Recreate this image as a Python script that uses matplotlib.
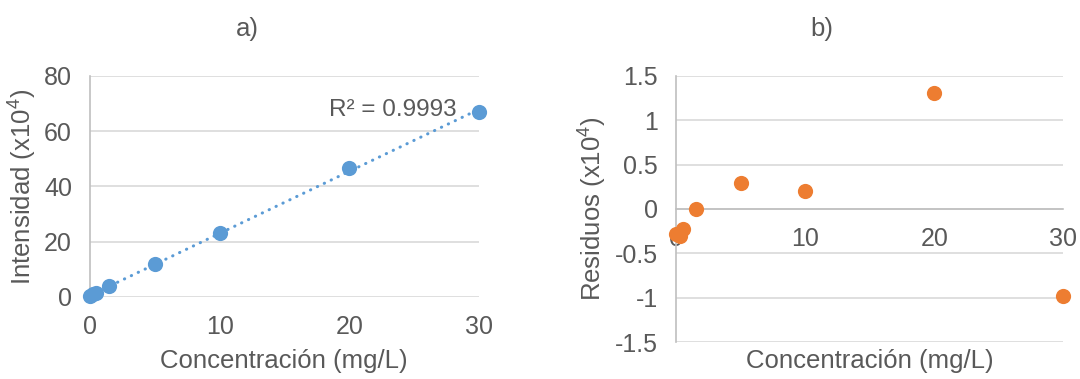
import matplotlib.pyplot as plt
import numpy as np

plt.rcParams['font.family'] = ['Liberation Sans', 'DejaVu Sans']
plt.rcParams['mathtext.fontset'] = 'custom'
plt.rcParams['mathtext.rm'] = 'Liberation Sans'
plt.rcParams['mathtext.it'] = 'Liberation Sans'

# Curva de calibración y residuos
conc = [0, 0.25, 0.5, 1.5, 5, 10, 20, 30]
intensidad = [0.3, 0.9, 1.5, 3.9, 12.0, 23.1, 46.8, 67.0]
residuos = [-0.28, -0.30, -0.22, 0.0, 0.29, 0.20, 1.31, -0.98]
r2_texto = "R² = 0.9993"

azul = "#5B9BD5"
naranja = "#ED7D31"
gris_texto = "#595959"
gris_rejilla = "#D9D9D9"
gris_eje = "#BFBFBF"

W, H = 1080, 379
fig = plt.figure(figsize=(10.8, 3.79), dpi=100)
ax1 = fig.add_axes([0.0833, 0.2164, 0.3602, 0.5831])
ax2 = fig.add_axes([0.6262, 0.0976, 0.3583, 0.7019])

def estilo(ax):
    for s in ["top", "right", "bottom"]:
        ax.spines[s].set_visible(False)
    ax.spines["left"].set_color(gris_eje)
    ax.spines["left"].set_linewidth(1.2)
    ax.yaxis.grid(True, color=gris_rejilla, linewidth=1.2)
    ax.set_axisbelow(True)
    ax.tick_params(length=0, labelsize=18, labelcolor=gris_texto, pad=13)

# a) calibración con recta de tendencia
estilo(ax1)
m, b = np.polyfit(conc, intensidad, 1)
xr = np.array([0, 30])
ax1.plot(xr, m * xr + b, color=azul, lw=2.2, linestyle=(0, (0.1, 2.4)),
         dash_capstyle="round", zorder=2)
ax1.scatter(conc, intensidad, s=120, color=azul, zorder=3, clip_on=False, linewidths=0)
ax1.set_xlim(0, 30)
ax1.set_ylim(0, 80)
ax1.set_xticks([0, 10, 20, 30])
ax1.set_yticks([0, 20, 40, 60, 80])
ax1.text(28.3, 67.8, r2_texto, ha="right", va="center", fontsize=17.5, color=gris_texto)

# b) residuos
estilo(ax2)
ax2.scatter(conc, residuos, s=120, color=naranja, zorder=3, clip_on=False, linewidths=0)
ax2.set_xlim(0, 30)
ax2.set_ylim(-1.5, 1.5)
ax2.set_xticks([0, 10, 20, 30])
ax2.set_yticks([-1.5, -1, -0.5, 0, 0.5, 1, 1.5])
ax2.set_yticklabels(["-1.5", "-1", "-0.5", "0", "0.5", "1", "1.5"])
ax2.spines["bottom"].set_visible(True)
ax2.spines["bottom"].set_position(("data", 0))
ax2.spines["bottom"].set_color(gris_eje)
ax2.spines["bottom"].set_linewidth(1.2)

# títulos y etiquetas de ejes
kw = dict(ha="center", va="center", fontsize=18.5, color=gris_texto)
fig.text(247 / W, 1 - 29 / H, "a)", **kw)
fig.text(822 / W, 1 - 29 / H, "b)", **kw)
fig.text(284 / W, 1 - 361 / H, "Concentración (mg/L)", **kw)
fig.text(870 / W, 1 - 361 / H, "Concentración (mg/L)", **kw)
fig.text(23 / W, 1 - 187 / H, "Intensidad (x10$^4$)", rotation=90, **kw)
fig.text(593 / W, 1 - 209 / H, "Residuos (x10$^4$)", rotation=90, **kw)

fig.savefig("out.png", dpi=100)
